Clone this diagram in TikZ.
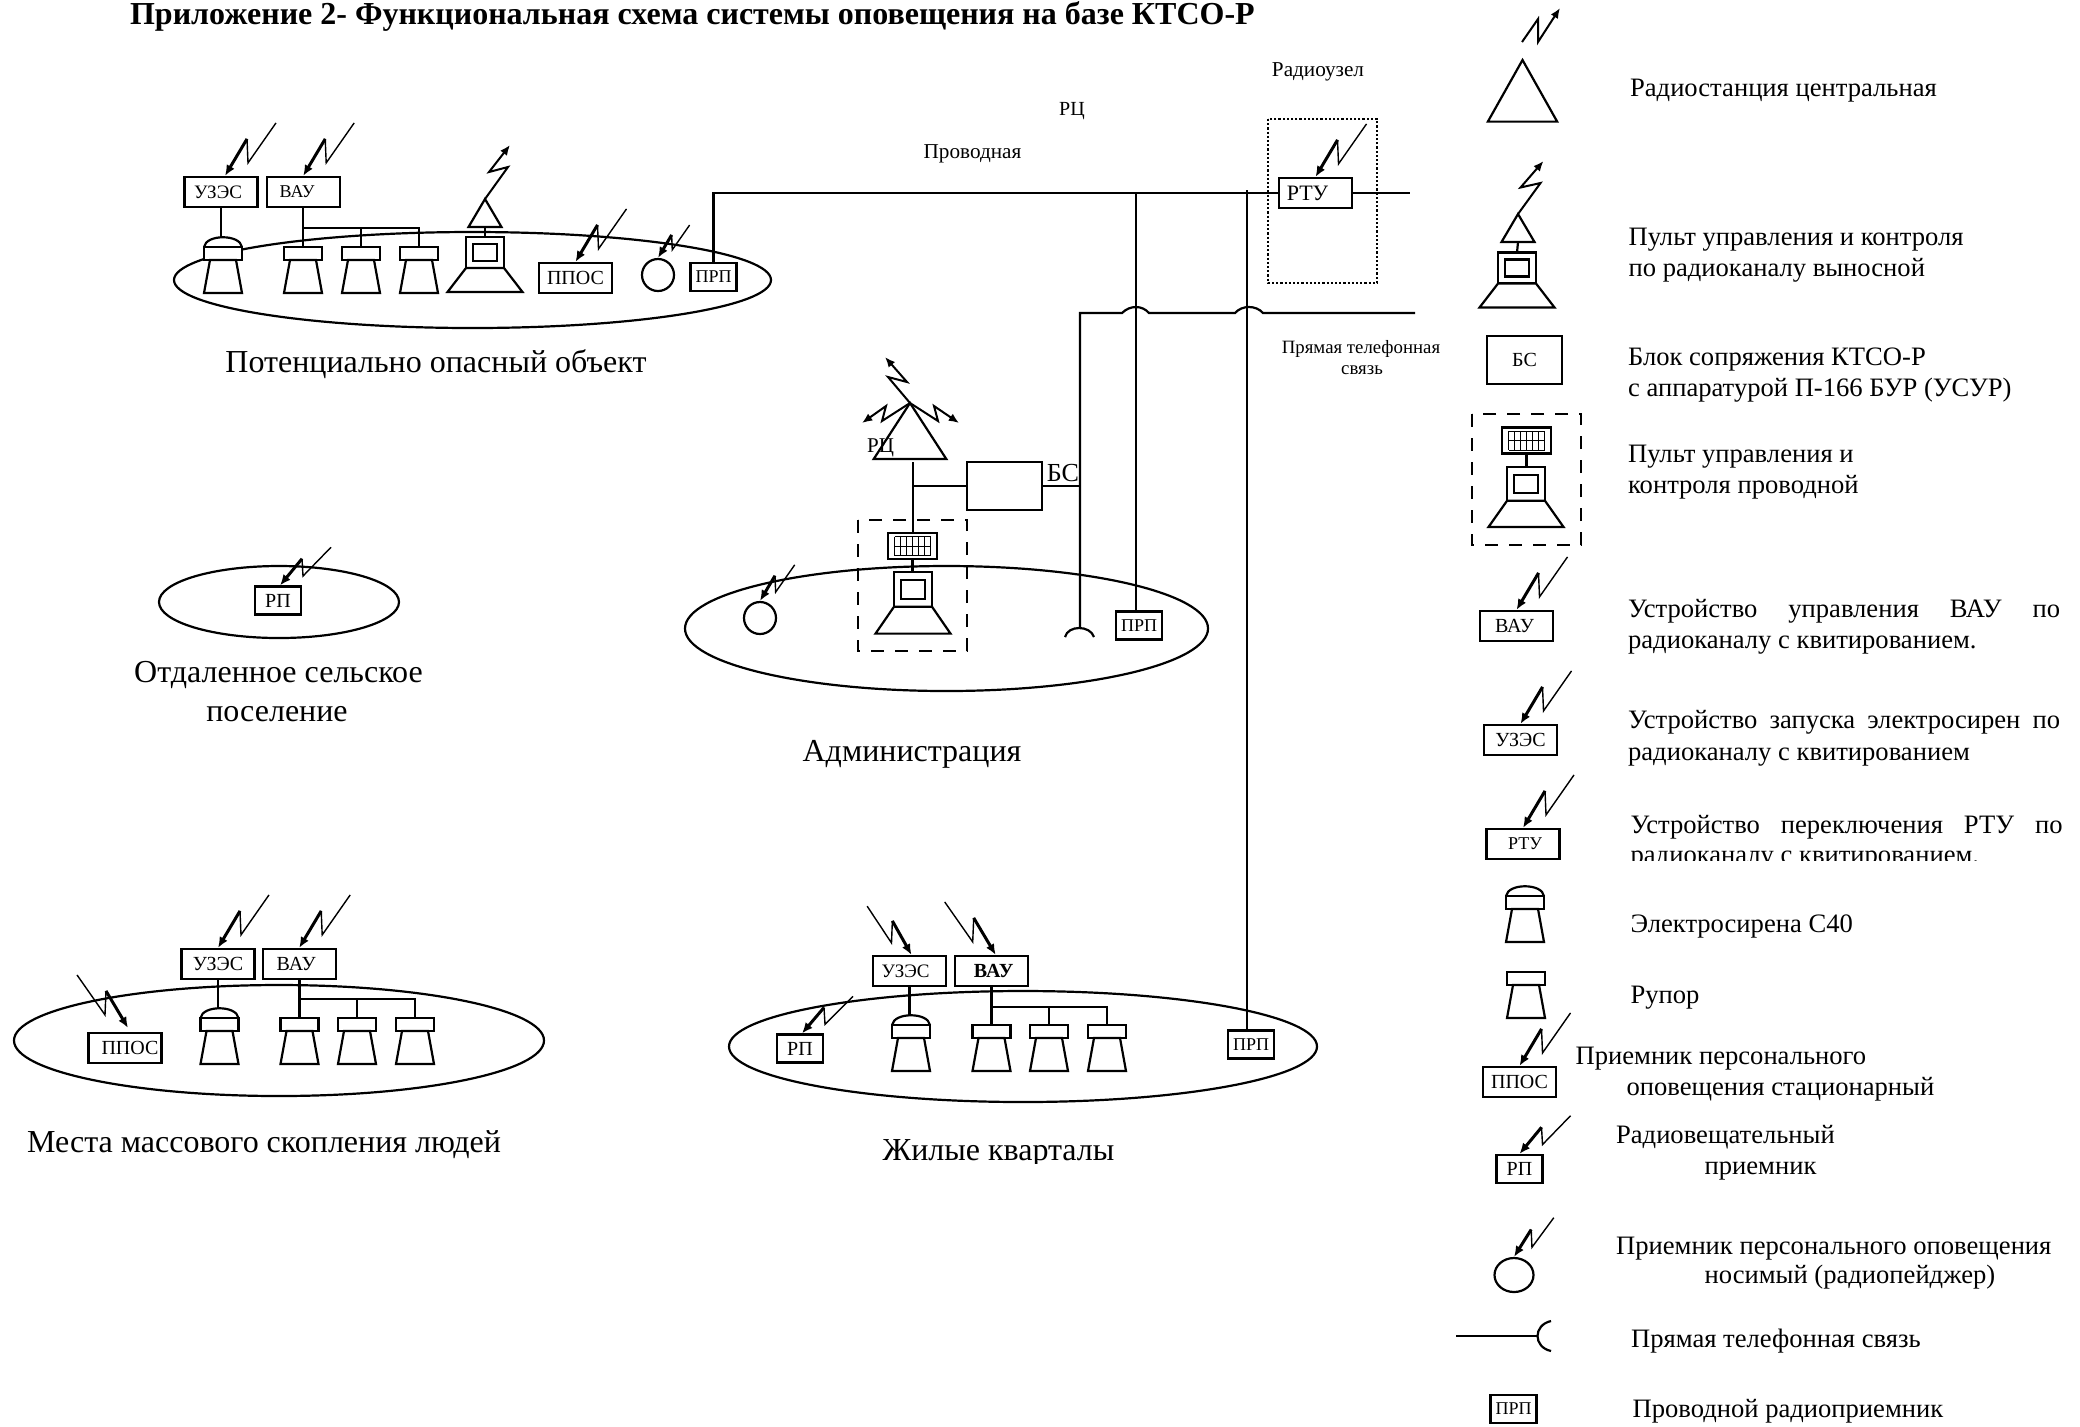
\documentclass[tikz,border=0pt]{standalone}
\usepackage{fontspec}
\setmainfont{Liberation Serif}
\usepackage{tikz}
\usetikzlibrary{shapes.geometric, arrows.meta, positioning}

\begin{document}
\begin{tikzpicture}[
        x=0.5pt, y=-0.5pt,
        every path/.style={line width=1.1pt},
        unit/.style={rectangle, draw=black, fill=white, minimum width=36.5pt, minimum height=15pt, inner sep=0pt, font=\fontsize{10}{10}\selectfont},
        prp/.style={unit, minimum width=23pt, minimum height=14pt},
        prpsmall/.style={prp, font=\fontsize{9}{9}\selectfont},
        head/.style={rectangle, draw=black, fill=white, minimum width=19pt, minimum height=6.5pt, inner sep=0pt},
        zone/.style={ellipse, draw=black, inner sep=0pt},
        caption/.style={anchor=base, inner sep=0pt, font=\fontsize{16}{16}\selectfont},
        note/.style={anchor=base west, inner sep=0pt, xshift=-0.5pt, font=\fontsize{13.3}{13.3}\selectfont},
        small/.style={anchor=base, inner sep=0pt, font=\fontsize{10.6}{10.6}\selectfont},
        spark/.style={line width=1pt, -{Latex[length=1.8mm, width=1.5mm]}},
        wave/.pic={
            \draw[line width=0.7pt] (51,-53) -- (23,-13) -- (22,-37);
            \draw[line width=1.5pt, -{Latex[length=1.9mm, width=1.6mm]}] (22,-37) -- (0,0);
        },
        horn/.pic={
            \node[head] (-head) at (0,6.5) {};
            \draw[fill=white] (-13,13) -- (13,13) -- (19,46) -- (-19,46) -- cycle;
        },
        siren/.pic={
            \draw[fill=white] (-19,0) .. controls (-17,-13) and (17,-13) .. (19,0);
            \coordinate (-dome) at (0,-10);
            \node[head] (-head) at (0,6.5) {};
            \draw[fill=white] (-13,13) -- (13,13) -- (19,46) -- (-19,46) -- cycle;
        },
        console/.pic={
            \draw[fill=white] (-19,0) rectangle (19,31);
            \draw (-12,7) rectangle (12,24);
            \draw[fill=white] (-19,31) -- (19,31) -- (37.5,55) -- (-37.5,55) -- cycle;
            \coordinate (-top) at (0,0);
        },
        keypad/.pic={
            \draw[fill=white] (-24.5,-13) rectangle (24.5,13);
            \foreach \c in {-18,-12,-6,0,6,12,18} \draw[line width=0.45pt] (\c,-9.5) -- (\c,9.5);
            \foreach \r in {-9.5,0,9.5} \draw[line width=0.45pt] (-18,\r) -- (18,\r);
            \coordinate (-top) at (0,-13);
            \coordinate (-bottom) at (0,13);
        },
        tower/.pic={
            \draw (0,0) -- (16.5,28) -- (-16.5,28) -- cycle;
            \coordinate (-apex) at (0,0);
            \coordinate (-base) at (0,28);
        }
    ]
    \useasboundingbox (0,0) rectangle (2080,1426);

    \node[anchor=base west, inner sep=0pt, font=\bfseries\fontsize{16}{16}\selectfont] (title) at (129,24) {Приложение 2- Функциональная схема системы оповещения на базе КТСО-Р};

    % potentially dangerous object
    \node[zone, minimum width=298.5pt, minimum height=48pt] (zoneA) at (472.5,280) {};
    \node[unit, font=\fontsize{9.5}{9.5}\selectfont] (uzesA) at (221,192) {УЗЭС\kern3pt};
    \node[unit, right=3.5pt of uzesA, font=\fontsize{9}{9}\selectfont] (vauA) {ВАУ\kern6pt};
    \pic at ([xshift=2pt]uzesA.north) {wave};
    \pic at (vauA.north) {wave};
    \pic (sirenA) at (223,247) {siren};
    \pic (hornA1) at (303,247) {horn};
    \pic (hornA2) at (361,247) {horn};
    \pic (hornA3) at (419,247) {horn};
    \draw (uzesA.south) -- (uzesA.south |- sirenA-dome);
    \draw (hornA1-head.north |- vauA.south) -- (hornA1-head.north);
    \coordinate (busA) at (303,228);
    \draw (busA) -| (hornA3-head.north);
    \draw (hornA2-head.north) -- (hornA2-head.north |- busA);
    \pic (towerA) at (485,199) {tower};
    \pic (consoleA) at (485,237) {console};
    \draw (towerA-base) -- (consoleA-top);
    \draw[spark] (towerA-apex) -- ++(23,-32) -- ++(-19,5) -- ++(21,-27);
    \node[unit] (pposA) at (575.5,278) {ППОС};
    \pic at (pposA.north) {wave};
    \node[circle, draw, minimum size=16pt, inner sep=0pt] (pagerA) at (658,275) {};
    \pic[scale=0.62] at (pagerA.north) {wave};
    \node[prpsmall] (prpA) at (713.5,277) {ПРП};
    \node[caption] (capA) at (436,372) {Потенциально опасный объект};

    % village
    \node[zone, minimum width=120pt, minimum height=36pt] (zoneB) at (279,602) {};
    \node[prp] (rpB) at (278,600.5) {РП};
    \pic[yscale=0.72] at ([xshift=1pt]rpB.north) {wave};
    \node[caption] (capB) at (278.5,682) {Отдаленное сельское};
    \node[caption] (capB2) at (277,721) {поселение};

    % crowded places
    \node[zone, minimum width=265pt, minimum height=55.5pt] (zoneC) at (279,1040.5) {};
    \node[unit] (uzesC) at (218,964) {УЗЭС};
    \node[unit, right=3pt of uzesC] (vauC) {ВАУ\kern3pt};
    \pic at (uzesC.north) {wave};
    \pic at (vauC.north) {wave};
    \pic (sirenC) at (219.5,1018) {siren};
    \pic (hornC1) at (299.5,1018) {horn};
    \pic (hornC2) at (357,1018) {horn};
    \pic (hornC3) at (415,1018) {horn};
    \draw (uzesC.south) -- (uzesC.south |- sirenC-dome);
    \draw (hornC1-head.north |- vauC.south) -- (hornC1-head.north);
    \coordinate (busC) at (299.5,999);
    \draw (busC) -| (hornC3-head.north);
    \draw (hornC2-head.north) -- (hornC2-head.north |- busC);
    \node[unit] (pposC) at (125,1048) {\kern5pt ППОС};
    \pic[xscale=-1] at ([xshift=1.5pt, yshift=2pt]pposC.north) {wave};
    \node[caption] (capC) at (264,1152) {Места массового скопления людей};

    % housing
    \node[zone, minimum width=294pt, minimum height=55.5pt] (zoneD) at (1023,1046.5) {};
    \node[unit, font=\fontsize{9.5}{9.5}\selectfont] (uzesD) at (909.5,971) {УЗЭС\kern4pt};
    \node[unit, right=3.5pt of uzesD] (vauD) {\kern2pt\bfseries ВАУ};
    \pic[xscale=-0.87, yscale=0.92] at ([xshift=1pt]uzesD.north) {wave};
    \pic[xscale=-1] at ([xshift=2pt]vauD.north) {wave};
    \node[prp] (rpD) at (800,1048.5) {РП};
    \pic[yscale=0.7] at ([xshift=1pt]rpD.north) {wave};
    \pic (sirenD) at (911,1025) {siren};
    \pic (hornD1) at (991.5,1025) {horn};
    \pic (hornD2) at (1049,1025) {horn};
    \pic (hornD3) at (1107,1025) {horn};
    \draw (uzesD.south) -- (uzesD.south |- sirenD-dome);
    \draw (hornD1-head.north |- vauD.south) -- (hornD1-head.north);
    \coordinate (busD) at (991.5,1007);
    \draw (busD) -| (hornD3-head.north);
    \draw (hornD2-head.north) -- (hornD2-head.north |- busD);
    \node[prpsmall] (prpD) at (1251,1044.5) {ПРП};
    \node[caption] (capD) at (998.5,1160) {Жилые кварталы};
    \fill[white] (860,1164) rectangle (1130,1180);

    % administration
    \node[zone, minimum width=261.5pt, minimum height=62.5pt] (zoneE) at (946.5,628.5) {};
    \pic[xscale=2.2, yscale=2] (rc) at (910,403) {tower};
    \node[anchor=base, inner sep=0pt, font=\fontsize{10.5}{10.5}\selectfont] (rcLabel) at (880.5,452) {РЦ};
    \draw[spark] (rc-apex) -- ++(-22,-26) -- ++(19,5) -- ++(-22,-25);
    \draw[spark] (rc-apex) -- ++(-28,18) -- ++(4,-15) -- ++(-24,17);
    \draw[spark] (rc-apex) -- ++(28,18) -- ++(-4,-15) -- ++(25,17);
    \node[rectangle, draw, minimum width=37.5pt, minimum height=24pt, inner sep=0pt] (bsE) at (1004.5,486) {};
    \node[anchor=base, inner sep=0pt, font=\fontsize{13}{13}\selectfont] (bsLabel) at (1063,481) {БС};
    \draw[dashed, dash pattern=on 6.5pt off 5.5pt] (858,520) rectangle (967,651);
    \pic (keyE) at (912.5,546) {keypad};
    \pic[yscale=1.12] (consoleE) at (913,572) {console};
    \coordinate (stemE) at (913,462);
    \draw (stemE) -- (stemE |- keyE-top);
    \draw (stemE |- bsE.west) -- (bsE.west);
    \draw (keyE-bottom) -- (keyE-bottom |- consoleE-top);
    \node[circle, draw, minimum size=16pt, inner sep=0pt] (pagerE) at (760,618) {};
    \pic[scale=0.68] at (pagerE.north) {wave};
    \node[prpsmall] (prpE) at (1139,625.5) {ПРП};
    \node[caption] (capE) at (912,761) {Администрация};

    % radio node and lines
    \node[rectangle, draw, minimum width=36.5pt, minimum height=15pt, inner sep=0pt, font=\fontsize{11}{11}\selectfont] (rtu) at (1315.5,193) {\raisebox{-1.5pt}{РТУ}\kern8pt};
    \pic at (rtu.north) {wave};
    \draw[densely dotted, line width=0.6pt] (1268,119) rectangle (1377,283);
    \coordinate (lineEnd) at (1410,193);
    \coordinate (phoneEnd) at (1415,313);
    \coordinate (phoneCorner) at (1080,313);
    \coordinate (phoneDrop) at (1080,628);
    \draw (prpA.north) |- (rtu.west);
    \draw (rtu.east) -- (lineEnd);
    \draw (phoneDrop) -- (phoneCorner) -- (1122,313) .. controls (1130,305) and (1142,305) .. (1149,313) -- (1235,313) .. controls (1242,305) and (1256,305) .. (1263,313) -- (phoneEnd);
    \draw (1065,637) .. controls (1068,625) and (1090,625) .. (1094,637);
    \draw (bsE.east) -- (bsE.east -| phoneDrop);
    \draw (1136,193) -- (1136,612);
    \draw (1247,190) -- (1247,1031);
    \node[small, font=\fontsize{10}{10}\selectfont] (rcTop) at (1072,115) {РЦ};
    \node[small] (wireLabel) at (972.5,158) {Проводная};
    \node[small] (nodeLabel) at (1318,76) {Радиоузел};
    \node[small, font=\fontsize{9.4}{9.4}\selectfont] (phoneLabel) at (1361,353) {Прямая телефонная};
    \node[small, font=\fontsize{9.4}{9.4}\selectfont] (phoneLabel2) at (1362,374) {связь};

    % legend
    \draw[spark] (1522,42) -- (1538,19) -- (1538,42) -- (1560,8);
    \pic[xscale=2.1, yscale=2.2] (legCentral) at (1522.5,60) {tower};
    \node[note] (noteCentral) at (1630,96) {Радиостанция центральная};

    \pic (legTower) at (1518,214) {tower};
    \pic (legConsole) at (1517,252.5) {console};
    \draw (legTower-base) -- (legConsole-top);
    \draw[spark] (legTower-apex) -- ++(22.5,-31) -- ++(-20,4.5) -- ++(23,-26.5);
    \node[note] (noteRemote) at (1628.5,245) {Пульт управления и контроля};
    \node[note] (noteRemote2) at (1628.5,276) {по радиоканалу выносной};

    \node[rectangle, draw, minimum width=37.5pt, minimum height=24pt, inner sep=0pt, font=\fontsize{10}{10}\selectfont] (legBs) at (1524.5,360) {БС};
    \node[note] (noteBs) at (1628,365) {Блок сопряжения КТСО-Р};
    \node[note] (noteBs2) at (1628,396) {с аппаратурой П-166 БУР (УСУР)};

    \draw[dashed, dash pattern=on 6.5pt off 5.5pt] (1472,414) rectangle (1581,545);
    \pic (legKey) at (1526.5,440.5) {keypad};
    \pic[yscale=1.09] (legConsole2) at (1526,467) {console};
    \draw (legKey-bottom) -- (legKey-bottom |- legConsole2-top);
    \node[note] (noteWired) at (1628,462.5) {Пульт управления и};
    \node[note] (noteWired2) at (1628,493.5) {контроля проводной};

    \node[unit] (legVau) at (1516.5,626) {ВАУ\kern2pt};
    \pic at (legVau.north) {wave};
    \node[note] (noteVau) at (1628,617) {\hbox to 216pt{Устройство\hfill управления\hfill ВАУ\hfill по}};
    \node[note] (noteVau2) at (1628,648) {радиоканалу с квитированием.};

    \node[unit] (legUzes) at (1520.5,740) {УЗЭС};
    \pic at (legUzes.north) {wave};
    \node[note] (noteUzes) at (1628,728) {\hbox to 216pt{Устройство\hfill запуска\hfill электросирен\hfill по}};
    \node[note] (noteUzes2) at (1628,760) {радиоканалу с квитированием};

    \node[unit, font=\fontsize{9}{9}\selectfont] (legRtu) at (1523,844) {\kern2pt РТУ};
    \pic at (legRtu.north) {wave};
    \node[note] (noteRtu) at (1630.5,833) {\hbox to 216pt{Устройство\hfill переключения\hfill РТУ\hfill по}};
    \node[note] (noteRtu2) at (1630.5,863) {радиоканалу с квитированием.};
    \fill[white] (1625,861) rectangle (2040,875);

    \pic (legSiren) at (1525,896) {siren};
    \node[note] (noteSiren) at (1630.5,932) {Электросирена С40};
    \pic (legHorn) at (1526,972) {horn};
    \node[note] (noteHorn) at (1630.5,1003) {Рупор};

    \node[unit] (legPpos) at (1519.5,1082) {ППОС};
    \pic at (legPpos.north) {wave};
    \node[note] (notePpos) at (1575.5,1064) {Приемник персонального};
    \node[note] (notePpos2) at (1626.5,1095) {оповещения стационарный};

    \node[prp] (legRp) at (1519.5,1169) {РП};
    \pic[yscale=0.72] at (legRp.north) {wave};
    \node[note] (noteRp) at (1616,1143) {Радиовещательный};
    \node[note] (noteRp2) at (1704.5,1174) {приемник};

    \node[ellipse, draw, minimum width=19.5pt, minimum height=17pt, inner sep=0pt] (legPager) at (1514,1275) {};
    \pic[xscale=0.78, yscale=0.74] at (legPager.north) {wave};
    \node[note] (notePager) at (1616,1254) {Приемник персонального оповещения};
    \node[note] (notePager2) at (1704.5,1283) {носимый (радиопейджер)};

    \coordinate (legPhoneA) at (1456,1336);
    \coordinate (legPhoneB) at (1538,1336);
    \draw (legPhoneA) -- (legPhoneB);
    \draw (1551,1321) .. controls (1533,1325) and (1533,1347) .. (1551,1351);
    \node[note] (notePhone) at (1631,1347) {Прямая телефонная связь};

    \node[prpsmall] (legPrp) at (1513.5,1409) {ПРП};
    \node[note] (notePrp) at (1632.5,1417) {Проводной радиоприемник};
\end{tikzpicture}
\end{document}
